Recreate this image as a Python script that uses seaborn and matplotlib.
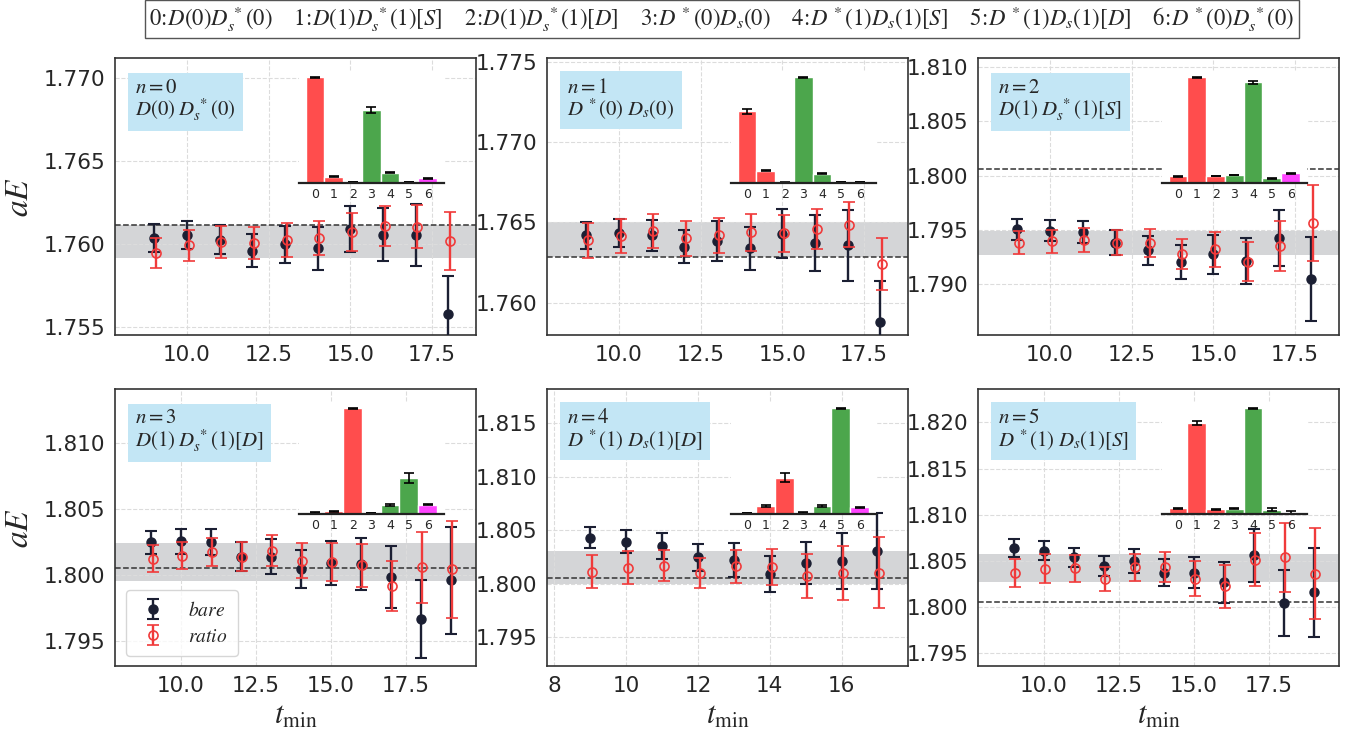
import numpy as np
import matplotlib
matplotlib.use("Agg")
import matplotlib.pyplot as plt
from matplotlib.ticker import MultipleLocator, FormatStrFormatter
import seaborn as sns

# ---------------------------------------------------------------- data
state_labels = [r"$n=0$" "\n" r"$D(0)\;D_s^{\,*}(0)$",
                r"$n=1$" "\n" r"$D^{\,*}(0)\;D_s(0)$",
                r"$n=2$" "\n" r"$D(1)\;D_s^{\,*}(1)[S]$",
                r"$n=3$" "\n" r"$D(1)\;D_s^{\,*}(1)[D]$",
                r"$n=4$" "\n" r"$D^{\,*}(1)\;D_s(1)[D]$",
                r"$n=5$" "\n" r"$D^{\,*}(1)\;D_s(1)[S]$"]

tmin = [list(range(9, 19)), list(range(9, 19)), list(range(9, 19)),
        list(range(9, 20)), list(range(9, 18)), list(range(9, 20))]

bare_val = [
    [1.76034, 1.76054, 1.76026, 1.75958, 1.75998, 1.75974, 1.76090, 1.76056, 1.76052, 1.75580],
    [1.76419, 1.76436, 1.76419, 1.76350, 1.76386, 1.76338, 1.76431, 1.76373, 1.76359, 1.75884],
    [1.79504, 1.79492, 1.79482, 1.79381, 1.79310, 1.79205, 1.79276, 1.79211, 1.79421, 1.79048],
    [1.80247, 1.80255, 1.80250, 1.80140, 1.80140, 1.80046, 1.80094, 1.80084, 1.79985, 1.79669, 1.79962],
    [1.80428, 1.80394, 1.80350, 1.80247, 1.80225, 1.80091, 1.80194, 1.80213, 1.80306],
    [1.80638, 1.80609, 1.80536, 1.80446, 1.80493, 1.80373, 1.80373, 1.80268, 1.80558, 1.80043, 1.80159],
]
bare_err = [
    [0.00084, 0.00084, 0.00087, 0.00099, 0.00112, 0.00130, 0.00138, 0.00160, 0.00187, 0.00224],
    [0.00082, 0.00086, 0.00096, 0.00105, 0.00124, 0.00134, 0.00153, 0.00175, 0.00221, 0.00254],
    [0.00099, 0.00099, 0.00103, 0.00114, 0.00137, 0.00159, 0.00179, 0.00213, 0.00259, 0.00385],
    [0.00087, 0.00093, 0.00101, 0.00107, 0.00131, 0.00145, 0.00167, 0.00194, 0.00232, 0.00295, 0.00406],
    [0.00098, 0.00105, 0.00120, 0.00127, 0.00159, 0.00172, 0.00197, 0.00263, 0.00355],
    [0.00096, 0.00101, 0.00103, 0.00109, 0.00130, 0.00145, 0.00170, 0.00221, 0.00284, 0.00359, 0.00480],
]
ratio_val = [
    [1.75946, 1.75992, 1.76010, 1.76006, 1.76022, 1.76036, 1.76070, 1.76110, 1.76104, 1.76016],
    [1.76388, 1.76415, 1.76446, 1.76402, 1.76419, 1.76440, 1.76433, 1.76458, 1.76485, 1.76240],
    [1.79381, 1.79393, 1.79405, 1.79381, 1.79378, 1.79276, 1.79319, 1.79205, 1.79353, 1.79562],
    [1.80125, 1.80148, 1.80173, 1.80138, 1.80183, 1.80110, 1.80097, 1.80074, 1.79916, 1.80059, 1.80043],
    [1.80113, 1.80150, 1.80169, 1.80097, 1.80163, 1.80156, 1.80072, 1.80097, 1.80103],
    [1.80370, 1.80413, 1.80420, 1.80304, 1.80428, 1.80428, 1.80308, 1.80225, 1.80514, 1.80540, 1.80362],
]
ratio_err = [
    [0.00092, 0.00093, 0.00096, 0.00099, 0.00102, 0.00105, 0.00114, 0.00121, 0.00130, 0.00174],
    [0.00109, 0.00108, 0.00108, 0.00108, 0.00109, 0.00115, 0.00114, 0.00125, 0.00139, 0.00163],
    [0.00105, 0.00105, 0.00108, 0.00116, 0.00126, 0.00139, 0.00159, 0.00179, 0.00231, 0.00350],
    [0.00102, 0.00101, 0.00106, 0.00110, 0.00118, 0.00132, 0.00145, 0.00164, 0.00190, 0.00270, 0.00369],
    [0.00156, 0.00153, 0.00147, 0.00141, 0.00155, 0.00169, 0.00206, 0.00252, 0.00330],
    [0.00150, 0.00156, 0.00147, 0.00127, 0.00145, 0.00163, 0.00190, 0.00234, 0.00288, 0.00375, 0.00493],
]

# final fitted energy band (low, high) and non-interacting threshold
band_lo = [1.75916, 1.76285, 1.79263, 1.79954, 1.79997, 1.80275]
band_hi = [1.76112, 1.76505, 1.79492, 1.80242, 1.80309, 1.80569]
threshold = [1.76114, 1.76284, 1.80059, 1.80053, 1.80053, 1.80058]

ylims = [(1.7545, 1.7712), (1.7580, 1.7752), (1.7853, 1.8108),
         (1.7931, 1.8141), (1.7923, 1.8182), (1.7936, 1.8236)]
xtick_step = [2.5, 2.5, 2.5, 2.5, 2.0, 2.5]
xtick_fmt = ["%.1f", "%.1f", "%.1f", "%.1f", "%d", "%.1f"]

# operator overlaps (normalised) for each state
ops = [0, 1, 2, 3, 4, 5, 6]
overlap = [
    [1.000, 0.057, 0.010, 0.689, 0.098, 0.006, 0.044],
    [0.680, 0.117, 0.003, 1.000, 0.085, 0.009, 0.009],
    [0.063, 1.000, 0.066, 0.073, 0.953, 0.044, 0.089],
    [0.013, 0.022, 1.000, 0.006, 0.083, 0.337, 0.086],
    [0.006, 0.076, 0.343, 0.010, 0.073, 1.000, 0.060],
    [0.051, 0.860, 0.041, 0.048, 1.000, 0.038, 0.006],
]
overlap_err = [
    [0.003, 0.004, 0.002, 0.030, 0.004, 0.002, 0.004],
    [0.025, 0.004, 0.002, 0.003, 0.004, 0.002, 0.002],
    [0.003, 0.003, 0.003, 0.003, 0.016, 0.003, 0.003],
    [0.003, 0.004, 0.003, 0.002, 0.006, 0.048, 0.005],
    [0.002, 0.010, 0.044, 0.002, 0.010, 0.003, 0.007],
    [0.003, 0.016, 0.005, 0.003, 0.003, 0.013, 0.020],
]
op_names = [r"$0\!:\!D(0)D_s^{\,*}(0)$", r"$1\!:\!D(1)D_s^{\,*}(1)[S]$",
            r"$2\!:\!D(1)D_s^{\,*}(1)[D]$", r"$3\!:\!D^{\,*}(0)D_s(0)$",
            r"$4\!:\!D^{\,*}(1)D_s(1)[S]$", r"$5\!:\!D^{\,*}(1)D_s(1)[D]$",
            r"$6\!:\!D^{\,*}(0)D_s^{\,*}(0)$"]

# ---------------------------------------------------------------- style
sns.set_theme(style="whitegrid")
plt.rcParams["font.family"] = ["DejaVu Sans"]
plt.rcParams["mathtext.fontset"] = "stix"

BARE_C = "#1b1f33"
RATIO_C = "#f03a3a"
op_colors = ["#ff4d4d", "#ff4d4d", "#ff4d4d", "#4ca64c", "#4ca64c", "#4ca64c", "#ff44ff"]

fig = plt.figure(figsize=(13.52, 7.38), dpi=100)
lefts = [0.0851, 0.4046, 0.7234]
bottoms = [0.546, 0.0976]
W, H = 0.267, 0.375

for n in range(6):
    row, col = divmod(n, 3)
    ax = fig.add_axes([lefts[col], bottoms[row], W, H])
    ax.set_axisbelow(True)
    ax.grid(True, ls="--", lw=0.8, color="#dcdcdc")
    for s in ax.spines.values():
        s.set_color("#333333")
        s.set_linewidth(1.2)

    t = np.array(tmin[n], dtype=float)
    ax.axhspan(band_lo[n], band_hi[n], color="#d4d5d7", lw=0, zorder=0.3)
    ax.axhline(threshold[n], color="#333333", ls="--", lw=1.1, zorder=1.2)

    ax.errorbar(t, bare_val[n], yerr=bare_err[n], fmt="o", color=BARE_C,
                ms=6.5, elinewidth=1.7, capsize=4, capthick=1.5,
                label=r"$bare$", zorder=3)
    ax.errorbar(t + 0.05, ratio_val[n], yerr=ratio_err[n], fmt="o",
                color=RATIO_C, mfc="none", mec=RATIO_C, mew=1.2, ms=6.5,
                elinewidth=1.7, capsize=4, capthick=1.5,
                label=r"$ratio$", zorder=4)

    ax.set_xlim(7.8, t.max() + 0.85)
    ax.set_ylim(*ylims[n])
    ax.xaxis.set_major_locator(MultipleLocator(xtick_step[n]))
    ax.xaxis.set_major_formatter(FormatStrFormatter(xtick_fmt[n]))
    ax.yaxis.set_major_locator(MultipleLocator(0.005))
    ax.yaxis.set_major_formatter(FormatStrFormatter("%.3f"))
    ax.tick_params(axis="both", labelsize=15.5, length=4, width=1,
                   color="#333333", pad=3)
    if col == 0:
        ax.set_ylabel(r"$aE$", fontsize=24, labelpad=6)
    if row == 1:
        ax.set_xlabel(r"$t_{\rm min}$", fontsize=22, labelpad=4)

    ax.text(0.056, 0.934, state_labels[n], transform=ax.transAxes,
            ha="left", va="top", fontsize=15, linespacing=1.0,
            bbox=dict(boxstyle="square,pad=0.35", fc="#c3e6f5", ec="none"),
            zorder=6)

    if n == 3:
        leg = ax.legend(loc="lower left", fontsize=14, handlelength=1.7,
                        handletextpad=0.95, labelspacing=0.35, borderpad=0.55,
                        frameon=True, bbox_to_anchor=(0.0305, 0.035),
                        borderaxespad=0.0)
        leg.get_frame().set_edgecolor("#cccccc")

    # overlap inset
    ins = ax.inset_axes([0.51, 0.55, 0.40, 0.40])
    ins.set_facecolor("white")
    sns.barplot(x=ops, y=overlap[n], hue=ops, palette=op_colors, width=1.0,
                errorbar=None, legend=False, saturation=1, ax=ins)
    ins.errorbar(ops, overlap[n], yerr=overlap_err[n], fmt="none",
                 ecolor="black", elinewidth=1.2, capsize=3.5, capthick=1.2)
    ins.set_xlim(-0.85, 6.85)
    ins.set_ylim(0, 1.05)
    ins.grid(False)
    ins.set_xlabel("")
    ins.set_ylabel("")
    ins.set_yticks([])
    for side in ("left", "top", "right"):
        ins.spines[side].set_visible(False)
    ins.spines["bottom"].set_color("#222222")
    ins.spines["bottom"].set_linewidth(1.6)
    ins.tick_params(axis="x", labelsize=9, length=2, pad=2)

fig.text(0.534, 0.974, "   ".join(op_names), ha="center", va="center",
         fontsize=16.4,
         bbox=dict(boxstyle="square,pad=0.2", fc="white", ec="#555555", lw=1))

fig.savefig("out.png", dpi=100)
